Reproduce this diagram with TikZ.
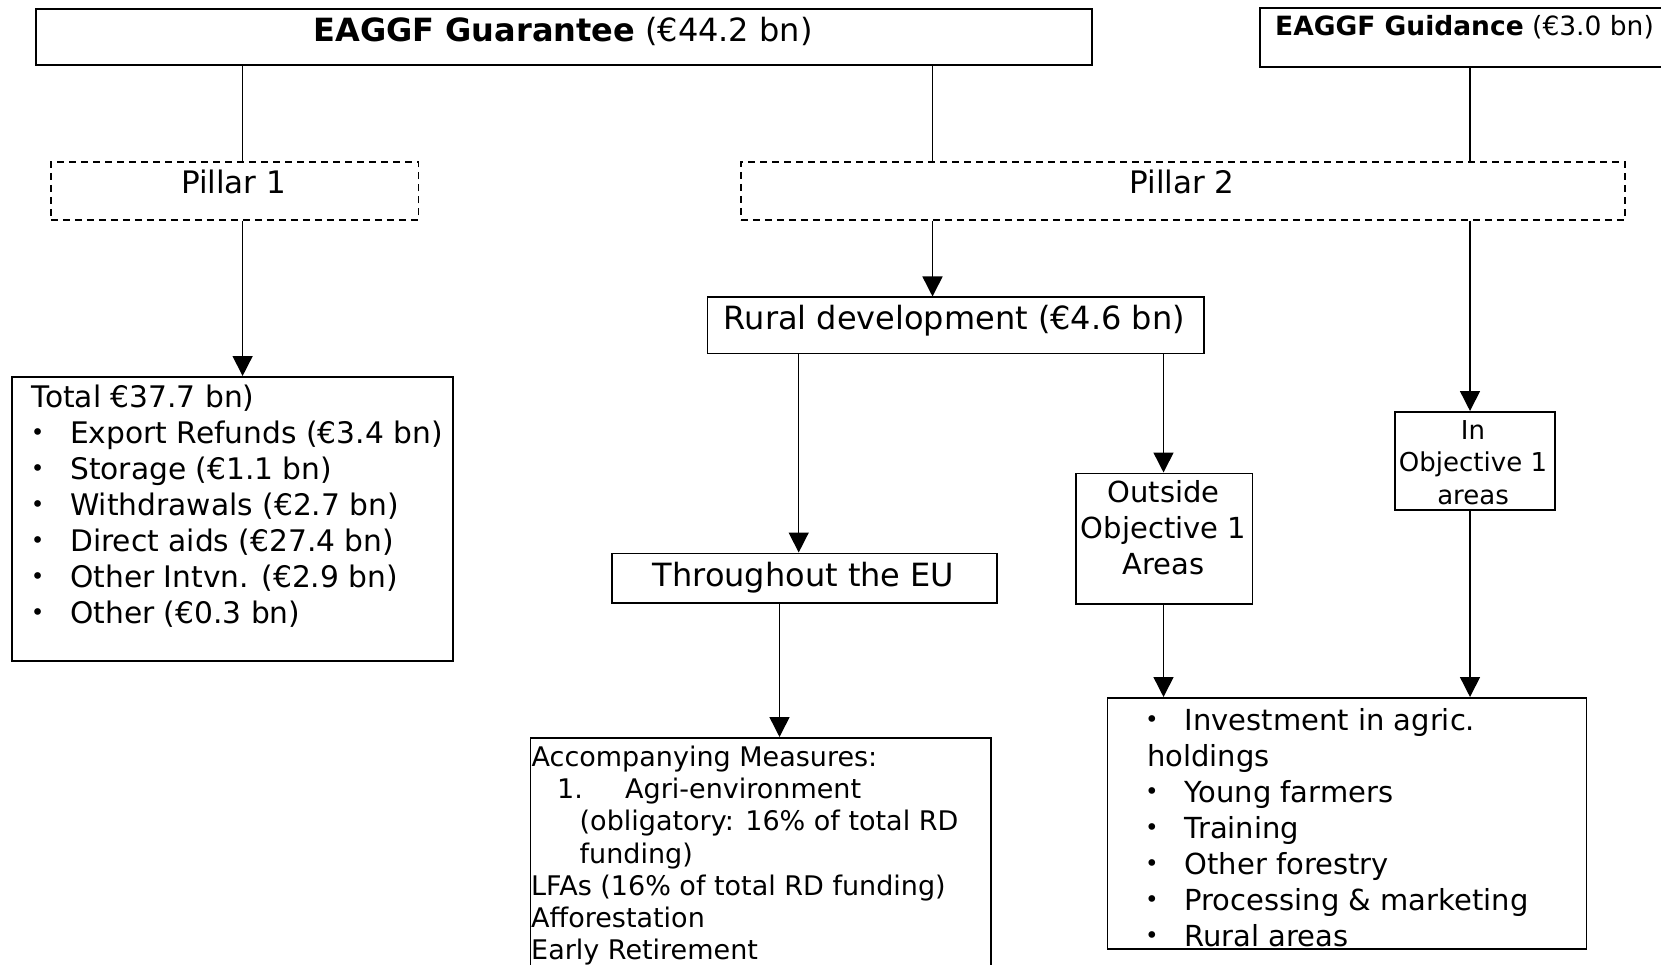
\documentclass[tikz,border=0pt]{standalone}
\usepackage{fontspec}
\setmainfont{DejaVu Sans}
\usetikzlibrary{arrows.meta}
\begin{document}
\begin{tikzpicture}[x=1pt,y=-1pt,
  box/.style={draw, line width=1.6pt, rectangle, inner sep=0pt, anchor=north west},
  dbox/.style={box, dash pattern=on 7pt off 5pt},
  conn/.style={line width=1.5pt},
  arr/.style={line width=1.5pt, -{Triangle[length=20pt,width=20pt]}},
  txt/.style={inner sep=0pt, font=\fontsize{#1}{#1}\selectfont},
  txt/.default=30,
  bul/.style={inner sep=0pt, font=\fontsize{23}{23}\selectfont, anchor=base, yshift=3pt},
]
\useasboundingbox (0,0) rectangle (1661,965);

% boxes
\node[box, minimum width=1056pt, minimum height=56pt] (ga) at (35,8.5) {};
\node[box, minimum width=500pt, minimum height=59pt] (gd) at (1259,7.5) {};
\node[dbox, minimum width=367.5pt, minimum height=58pt] (p1) at (50,161) {};
\node[dbox, minimum width=884pt, minimum height=58pt] (p2) at (740,161) {};
\node[box, minimum width=441pt, minimum height=284pt] (tot) at (11,376) {};
\node[box, minimum width=496.5pt, minimum height=56pt] (rd) at (706.5,296.5) {};
\node[box, minimum width=385pt, minimum height=49.5pt] (th) at (611,552.5) {};
\node[box, minimum width=176.5pt, minimum height=130.5pt] (out) at (1075,472.5) {};
\node[box, minimum width=160pt, minimum height=98pt] (inob) at (1394,411) {};
\node[box, minimum width=460.4pt, minimum height=240pt] (acc) at (529.6,737) {};
\node[box, minimum width=479pt, minimum height=251pt] (bot) at (1106.5,697) {};

% connector columns
\coordinate (c1) at (242.6,0);
\coordinate (c2) at (932.5,0);
\coordinate (c3) at (1470,0);
\coordinate (c4) at (798.7,0);
\coordinate (c5) at (1163.5,0);
\coordinate (c6) at (779.5,0);

\draw[conn] (c1 |- ga.south) -- (c1 |- p1.north);
\draw[conn] (c2 |- ga.south) -- (c2 |- p2.north);
\draw[conn] (c3 |- gd.south) -- (c3 |- p2.north);
\draw[arr] (c1 |- p1.south) -- (c1 |- tot.north);
\draw[arr] (c2 |- p2.south) -- (c2 |- rd.north);
\draw[arr] (c3 |- p2.south) -- (c3 |- inob.north);
\draw[arr] (c4 |- rd.south) -- (c4 |- th.north);
\draw[arr] (c5 |- rd.south) -- (c5 |- out.north);
\draw[arr] (c6 |- th.south) -- (c6 |- acc.north);
\draw[arr] (c5 |- out.south) -- (c5 |- bot.north);
\draw[arr] (c3 |- inob.south) -- (c3 |- bot.north);

% texts
\node[txt=32, anchor=base] (tga) at (563,42) {\textbf{EAGGF Guarantee} (€44.2 bn)};
\node[txt=26.5, anchor=base west] (tgd) at (1275,36) {\textbf{EAGGF Guidance} (€3.0 bn)};
\node[txt=31, anchor=base] (tp1) at (233.6,194) {Pillar 1};
\node[txt=31, anchor=base] (tp2) at (1182,194) {Pillar 2};
\node[txt=32, anchor=base] (trd) at (954.5,330) {Rural development (€4.6 bn)};
\node[txt=32, anchor=base] (tth) at (803.5,586) {Throughout the EU};
\node[txt=29, anchor=base] (to1) at (1163.5,502.7) {Outside};
\node[txt=29, anchor=base] (to2) at (1163.5,538.7) {Objective 1};
\node[txt=29, anchor=base] (to3) at (1163.5,574.7) {Areas};
\node[txt=26, anchor=base] (ti1) at (1473,439.5) {In};
\node[txt=26, anchor=base] (ti2) at (1473,471.5) {Objective 1};
\node[txt=26, anchor=base] (ti3) at (1473,504) {areas};

% Pillar 1 list
\node[txt=29.7, anchor=base west] (tt0) at (31.7,407) {Total €37.7 bn)};
\foreach \yy/\lab [count=\i] in {443/{Export Refunds (€3.4 bn)}, 479/{Storage (€1.1 bn)}, 515/{Withdrawals (€2.7 bn)}, 551/{Direct aids (€27.4 bn)}, 587/{Other Intvn. (€2.9 bn)}, 623/{Other (€0.3 bn)}}{
  \node[bul] (tb\i) at (37.7,\yy) {•};
  \node[txt=29.7, anchor=base west] (tl\i) at (70,\yy) {\lab};
}

% Accompanying measures
\node[txt=27, anchor=base west] (ta1) at (531.5,766.5) {Accompanying Measures:};
\node[txt=27, anchor=base west] (ta2) at (557,798.7) {1.};
\node[txt=27, anchor=base west] (ta3) at (625,798.7) {Agri-environment};
\node[txt=27, anchor=base west] (ta4) at (579.5,830.9) {(obligatory: 16\% of total RD};
\node[txt=27, anchor=base west] (ta5) at (579.5,863.1) {funding)};
\node[txt=27, anchor=base west] (ta6) at (531,895.3) {LFAs (16\% of total RD funding)};
\node[txt=27, anchor=base west] (ta7) at (531,927.5) {Afforestation};
\node[txt=27, anchor=base west] (ta8) at (531,959.7) {Early Retirement};

% Bottom right list
\node[bul] (tr0) at (1152,730) {•};
\node[txt=29, anchor=base west] (tr1) at (1184.5,730) {Investment in agric.};
\node[txt=29, anchor=base west] (tr2) at (1147,766) {holdings};
\foreach \yy/\lab [count=\i] in {802/{Young farmers}, 838/{Training}, 874/{Other forestry}, 910/{Processing \& marketing}, 946/{Rural areas}}{
  \node[bul] (rb\i) at (1152,\yy) {•};
  \node[txt=29, anchor=base west] (rl\i) at (1184.5,\yy) {\lab};
}
\end{tikzpicture}
\end{document}
